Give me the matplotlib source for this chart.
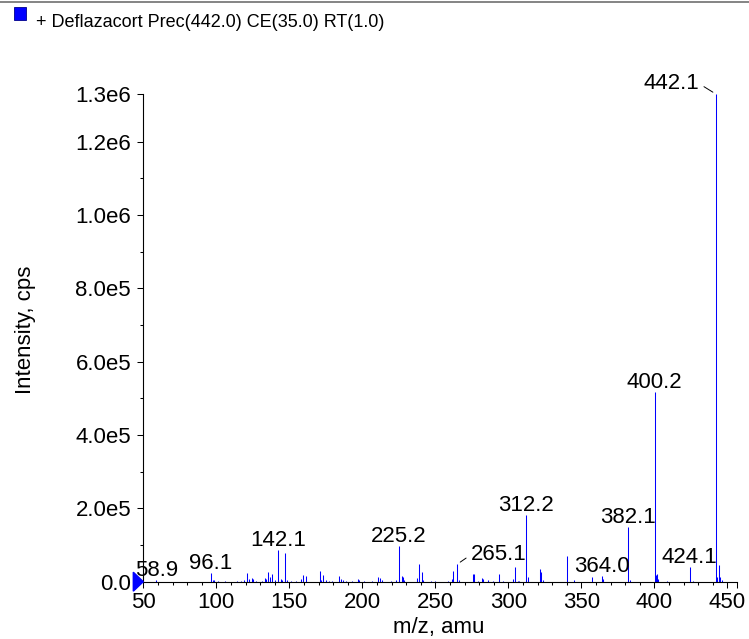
import matplotlib
matplotlib.use("Agg")
import matplotlib.pyplot as plt
from matplotlib.patches import Rectangle, Polygon
from matplotlib.lines import Line2D
from matplotlib.transforms import ScaledTranslation

plt.rcParams['font.family'] = ['Liberation Sans', 'DejaVu Sans']

################################   DATOS  ###########################################

titulo = "+ Deflazacort Prec(442.0) CE(35.0) RT(1.0)"

mz = [58.9, 96.1, 97.5, 98.6, 101.5, 106.0, 114.5, 116.8, 119.0, 121.1,
      122.5, 124.2, 125.2, 127.1, 131.2, 133.4, 134.3, 135.7, 136.6, 138.4,
      140.1, 142.1, 144.2, 145.3, 147.1, 148.7, 151.0, 154.4, 157.9, 159.7,
      161.4, 171.1, 172.0, 173.4, 175.0, 177.5, 179.4, 184.1, 185.3, 187.0,
      188.7, 192.8, 196.7, 197.8, 201.2, 206.9, 211.0, 212.2, 213.8, 219.4,
      222.9, 225.2, 227.1, 228.0, 228.8, 237.3, 238.9, 240.6, 241.7, 247.0,
      249.7, 258.9, 261.1, 262.3, 265.1, 266.0, 275.9, 276.6, 278.9, 281.7,
      282.4, 286.3, 289.7, 293.4, 296.5, 303.4, 304.6, 306.4, 307.4, 312.2,
      313.2, 321.7, 322.6, 323.5, 340.1, 345.2, 357.5, 364.0, 364.8, 382.1,
      383.3, 400.2, 401.1, 401.8, 402.7, 408.4, 424.1, 426.7, 442.1, 443.0,
      444.1, 445.0, 446.0]

intensidad = [4e3, 2.45e4, 5e3, 4e3, 3e3, 3e3, 3e3, 3e3, 4e3, 2.4e4,
              8e3, 1e4, 7e3, 3e3, 3e3, 9e3, 6e3, 2.7e4, 1.4e4, 2e4,
              4e3, 8.6e4, 8e3, 5e3, 7.9e4, 5e3, 3e3, 3e3, 6e3, 1.8e4,
              1.5e4, 2.9e4, 5e3, 1.8e4, 4e3, 3e3, 3e3, 1.5e4, 6e3, 4e3,
              3e3, 3e3, 6e3, 4e3, 3e3, 3e3, 1.2e4, 9e3, 5e3, 3e3,
              4e3, 9.8e4, 1.5e4, 1.4e4, 4e3, 9e3, 4.8e4, 2.6e4, 4e3, 3e3,
              3e3, 3e3, 6e3, 3e4, 4.8e4, 5e3, 2.1e4, 2e4, 3e3, 9e3,
              6e3, 5e3, 3e3, 2.1e4, 3e3, 6e3, 3.9e4, 3e3, 3e3, 1.81e5,
              1.3e4, 3.4e4, 2.6e4, 4e3, 7e4, 4e3, 1.2e4, 1.45e4, 6e3, 1.48e5,
              4e3, 5.16e5, 1.8e4, 2.1e4, 6e3, 3e3, 3.9e4, 3e3, 1.33e6, 1.4e4,
              4.5e4, 1.4e4, 5e3]

etiquetas = [58.9, 96.1, 142.1, 225.2, 312.2, 364.0, 382.1, 400.2, 424.1]
etiquetas_linea = [265.1, 442.1]

y_max = 1.33e6
y_ticks = [0, 2e5, 4e5, 6e5, 8e5, 1e6, 1.2e6, y_max]
y_labels = ["0.0", "2.0e5", "4.0e5", "6.0e5", "8.0e5", "1.0e6", "1.2e6", "1.3e6"]
y_minor = [1e5, 3e5, 5e5, 7e5, 9e5, 1.1e6]

x_min, x_max = 50, 456.4
x_ticks = [50, 100, 150, 200, 250, 300, 350, 400, 450]
x_minor = [v for v in range(60, 451, 10) if v % 50 != 0]

################################   FIGURA  ###########################################

W, H = 749, 639
fig = plt.figure(figsize=(W / 100, H / 100), dpi=100)
ax = fig.add_axes([143.3 / W, 1 - 581.7 / H, (736.7 - 143.3) / W, (581.7 - 94) / H])

ax.vlines(mz, 0, intensidad, color='#0000ff', lw=0.75)

ax.set_xlim(x_min, x_max)
ax.set_ylim(0, y_max)

ax.set_xticks(x_ticks + [x_max])
ax.set_xticklabels([str(v) for v in x_ticks] + [""])
ax.set_xticks(x_minor, minor=True)
ax.set_yticks(y_ticks)
ax.set_yticklabels(y_labels)
ax.set_yticks(y_minor, minor=True)

for lado in ['top', 'right']:
    ax.spines[lado].set_visible(False)
for lado in ['left', 'bottom']:
    ax.spines[lado].set_linewidth(0.8)

ax.tick_params(which='major', length=4.3, width=0.75, labelsize=16)
ax.tick_params(which='minor', length=2.5, width=0.75)
ax.tick_params(axis='x', which='major', pad=3)
ax.tick_params(axis='y', which='major', pad=4.5)

alturas = dict(zip(mz, intensidad))

for m in etiquetas:
    ax.annotate(f"{m:.1f}", xy=(m, alturas[m]), xytext=(0, 3), textcoords='offset points',
                ha='center', va='baseline', fontsize=16, annotation_clip=False)

# etiquetas con linea
desplaz = {265.1: (30, 2.9, (0, 0.5)), 442.1: (-32.3, 3.6, (1, 0.5))}
for m in etiquetas_linea:
    dx, dy, rp = desplaz[m]
    ax.annotate(f"{m:.1f}", xy=(m, alturas[m]), xytext=(dx, dy), textcoords='offset points',
                ha='center', va='baseline', fontsize=16, annotation_clip=False,
                arrowprops=dict(arrowstyle='-', color='black', lw=0.7, relpos=rp,
                                shrinkA=2, shrinkB=2.5))

# triangulo azul en el origen
tri = Polygon([(0, 0), (-0.1, 0.095), (-0.1, -0.095)], closed=True,
              transform=fig.dpi_scale_trans + ScaledTranslation(x_min, 0, ax.transData),
              facecolor='#0000ff', edgecolor='#0000ff', clip_on=False, zorder=5)
ax.add_artist(tri)

# textos de ejes y titulo
fig.text(25 / W, 1 - 330 / H, 'Intensity, cps', rotation=90, ha='center', va='center', fontsize=16)
fig.text(439 / W, 1 - 628 / H, 'm/z, amu', ha='center', va='center', fontsize=16)
fig.text(36 / W, 1 - 27 / H, titulo, ha='left', va='baseline', fontsize=13)

fig.add_artist(Rectangle((14 / W, 1 - 20 / H), 12 / W, 13 / H, transform=fig.transFigure,
                         facecolor='#0000ff', edgecolor='#00008b', lw=0.6))
fig.add_artist(Line2D([0, 1], [1 - 2 / H, 1 - 2 / H], transform=fig.transFigure,
                      color='#707070', lw=1.2))

fig.savefig('out.png', dpi=100)
